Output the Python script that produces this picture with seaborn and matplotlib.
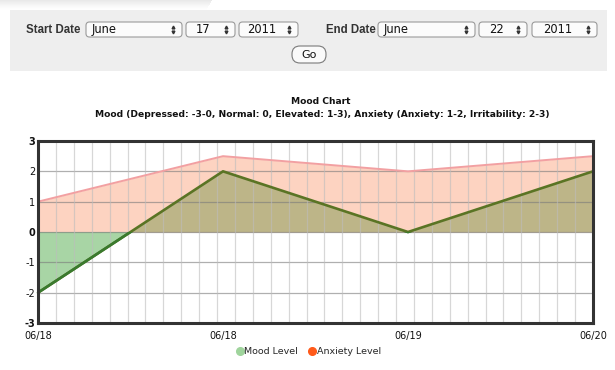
import numpy as np
import pandas as pd
import matplotlib
matplotlib.use("Agg")
import matplotlib.pyplot as plt
import seaborn as sns
from matplotlib.patches import FancyBboxPatch, Rectangle
from matplotlib.lines import Line2D
from matplotlib.transforms import IdentityTransform

# ---- data ----
date_labels = ["06/18", "06/18", "06/19", "06/20"]
mood_level = [-2, 2, 0, 2]
anxiety_level = [1, 2.5, 2, 2.5]
y_ticks = [-3, -2, -1, 0, 1, 2, 3]
series_names = ["Mood Level", "Anxiety Level"]
chart_title = "Mood Chart"
chart_subtitle = "Mood (Depressed: -3-0, Normal: 0, Elevated: 1-3), Anxiety (Anxiety: 1-2, Irritability: 2-3)"
start_date = ["June", "17", "2011"]
end_date = ["June", "22", "2011"]

W, H = 615, 370
sns.set_theme(style="white")
plt.rcParams["font.family"] = ["DejaVu Sans"]

fig = plt.figure(figsize=(W / 100, H / 100), dpi=100)
fig.patch.set_facecolor("white")
PX = IdentityTransform()


def fx(x):
    return x / W


def fy(y):
    return 1 - y / H


def box(x0, x1, y0, y1, r, face, edge, lw=0.8, z=2):
    p = FancyBboxPatch((x0, H - y1), x1 - x0, y1 - y0,
                       boxstyle=f"round,pad=0,rounding_size={r}",
                       facecolor=face, edgecolor=edge, linewidth=lw,
                       transform=PX, zorder=z)
    fig.add_artist(p)


# ---- header (form) ----
for i in range(10):
    fig.add_artist(Rectangle((0, H - i - 1), 212 - i * 0.6, 1, transform=PX,
                             facecolor="#b0b0b0", alpha=0.28 * (1 - i / 10) ** 1.5,
                             lw=0, zorder=1))
fig.add_artist(Rectangle((10, H - 71), 597, 61, transform=PX,
                         facecolor="#eeeeee", lw=0, zorder=1))

hdr_font = dict(family="Liberation Sans", fontweight="bold", fontsize=8.3, color="#333333")
fig.text(fx(26), fy(30), "Start Date", ha="left", va="center", **hdr_font)
fig.text(fx(326), fy(30), "End Date", ha="left", va="center", **hdr_font)


def dropdown(x0, x1, label, centered):
    box(x0, x1, 22, 37, 3.5, "#fbfbfb", "#9a9a9a")
    if centered:
        fig.text(fx((x0 + x1 - 14) / 2), fy(29.5), label, ha="center", va="center",
                 fontsize=8.3, color="#111111", zorder=3)
    else:
        fig.text(fx(x0 + 6), fy(29.5), label, ha="left", va="center",
                 fontsize=8.3, color="#111111", zorder=3)
    fig.add_artist(Line2D([x1 - 9], [H - 27.0], marker="^", markersize=2.0, ls="",
                          color="#333333", transform=PX, zorder=3))
    fig.add_artist(Line2D([x1 - 9], [H - 32.2], marker="v", markersize=2.0, ls="",
                          color="#333333", transform=PX, zorder=3))


dropdown(86, 182, start_date[0], False)
dropdown(186, 235, start_date[1], True)
dropdown(239, 298, start_date[2], True)
dropdown(378, 475, end_date[0], False)
dropdown(479, 527, end_date[1], True)
dropdown(532, 597, end_date[2], True)

box(292, 326, 46, 63, 8, "#fafafa", "#7a7a7a")
fig.text(fx(309), fy(54.5), "Go", ha="center", va="center", fontsize=8,
         color="#111111", zorder=3)

# ---- titles ----
fig.text(fx(321), fy(101), chart_title, ha="center", va="center",
         fontsize=6.6, fontweight="bold", color="#111111")
fig.text(fx(322), fy(115), chart_subtitle, ha="center", va="center",
         fontsize=6.6, fontweight="bold", color="#111111")

# ---- chart ----
ax = fig.add_axes([fx(38), fy(323), (593 - 38) / W, (323 - 141) / H])
ax.set_facecolor("white")
df = pd.DataFrame({"pos": np.arange(len(date_labels)),
                   "mood": mood_level, "anxiety": anxiety_level})
x = df["pos"].to_numpy(float)
m = df["mood"].to_numpy(float)
a = df["anxiety"].to_numpy(float)

ax.fill_between(x, 0, a, color="#fdd3c1", lw=0, zorder=1)
ax.fill_between(x, 0, m, where=m >= 0, interpolate=True, color="#bdb588", lw=0, zorder=2)
ax.fill_between(x, 0, m, where=m <= 0, interpolate=True, color="#a8d5a5", lw=0, zorder=2)

for yv in [-2, -1, 0, 1, 2]:
    ax.axhline(yv, color="#7a7a7a", alpha=0.6, lw=0.9, zorder=3)
for k in range(1, 31):
    ax.axvline(3 * k / 31, color="#bdbdbd", alpha=0.6, lw=0.9, zorder=3)

sns.lineplot(data=df, x="pos", y="anxiety", color="#f2a0a2", lw=1.4, ax=ax, zorder=4)
sns.lineplot(data=df, x="pos", y="mood", color="#5a7424", lw=1.9, ax=ax, zorder=5)
sns.lineplot(data=df, x="pos", y="mood", color="#3a7a2e", lw=1.9, ax=ax, zorder=6)
ax.lines[-1].set_clip_path(Rectangle((-1, -4), 5, 4, transform=ax.transData))

ax.set_xlim(0, 3)
ax.set_ylim(-3, 3)
ax.set_xlabel("")
ax.set_ylabel("")
ax.set_xticks(x)
ax.set_xticklabels(date_labels)
ax.set_yticks(y_ticks)
ax.set_yticklabels([str(v) for v in y_ticks])
ax.tick_params(axis="both", length=0, labelsize=7, colors="#111111")
ax.tick_params(axis="x", pad=6)
ax.tick_params(axis="y", pad=2)
for lab, v in zip(ax.get_yticklabels(), y_ticks):
    if v in (-3, 0, 3):
        lab.set_fontweight("bold")
for s in ax.spines.values():
    s.set_color("#333333")
    s.set_linewidth(2.2)
    s.set_zorder(10)

handles = [Line2D([], [], marker="o", ls="", color="#9fd49c", markersize=5.5),
           Line2D([], [], marker="o", ls="", color="#ff5a1a", markersize=5.5)]
fig.legend(handles, series_names, loc="center", bbox_to_anchor=(fx(308), fy(352)),
           ncol=2, frameon=False, fontsize=6.8, handletextpad=0.0,
           columnspacing=1.0, handlelength=1.0, borderpad=0)

fig.savefig("out.png", dpi=100, facecolor="white")
